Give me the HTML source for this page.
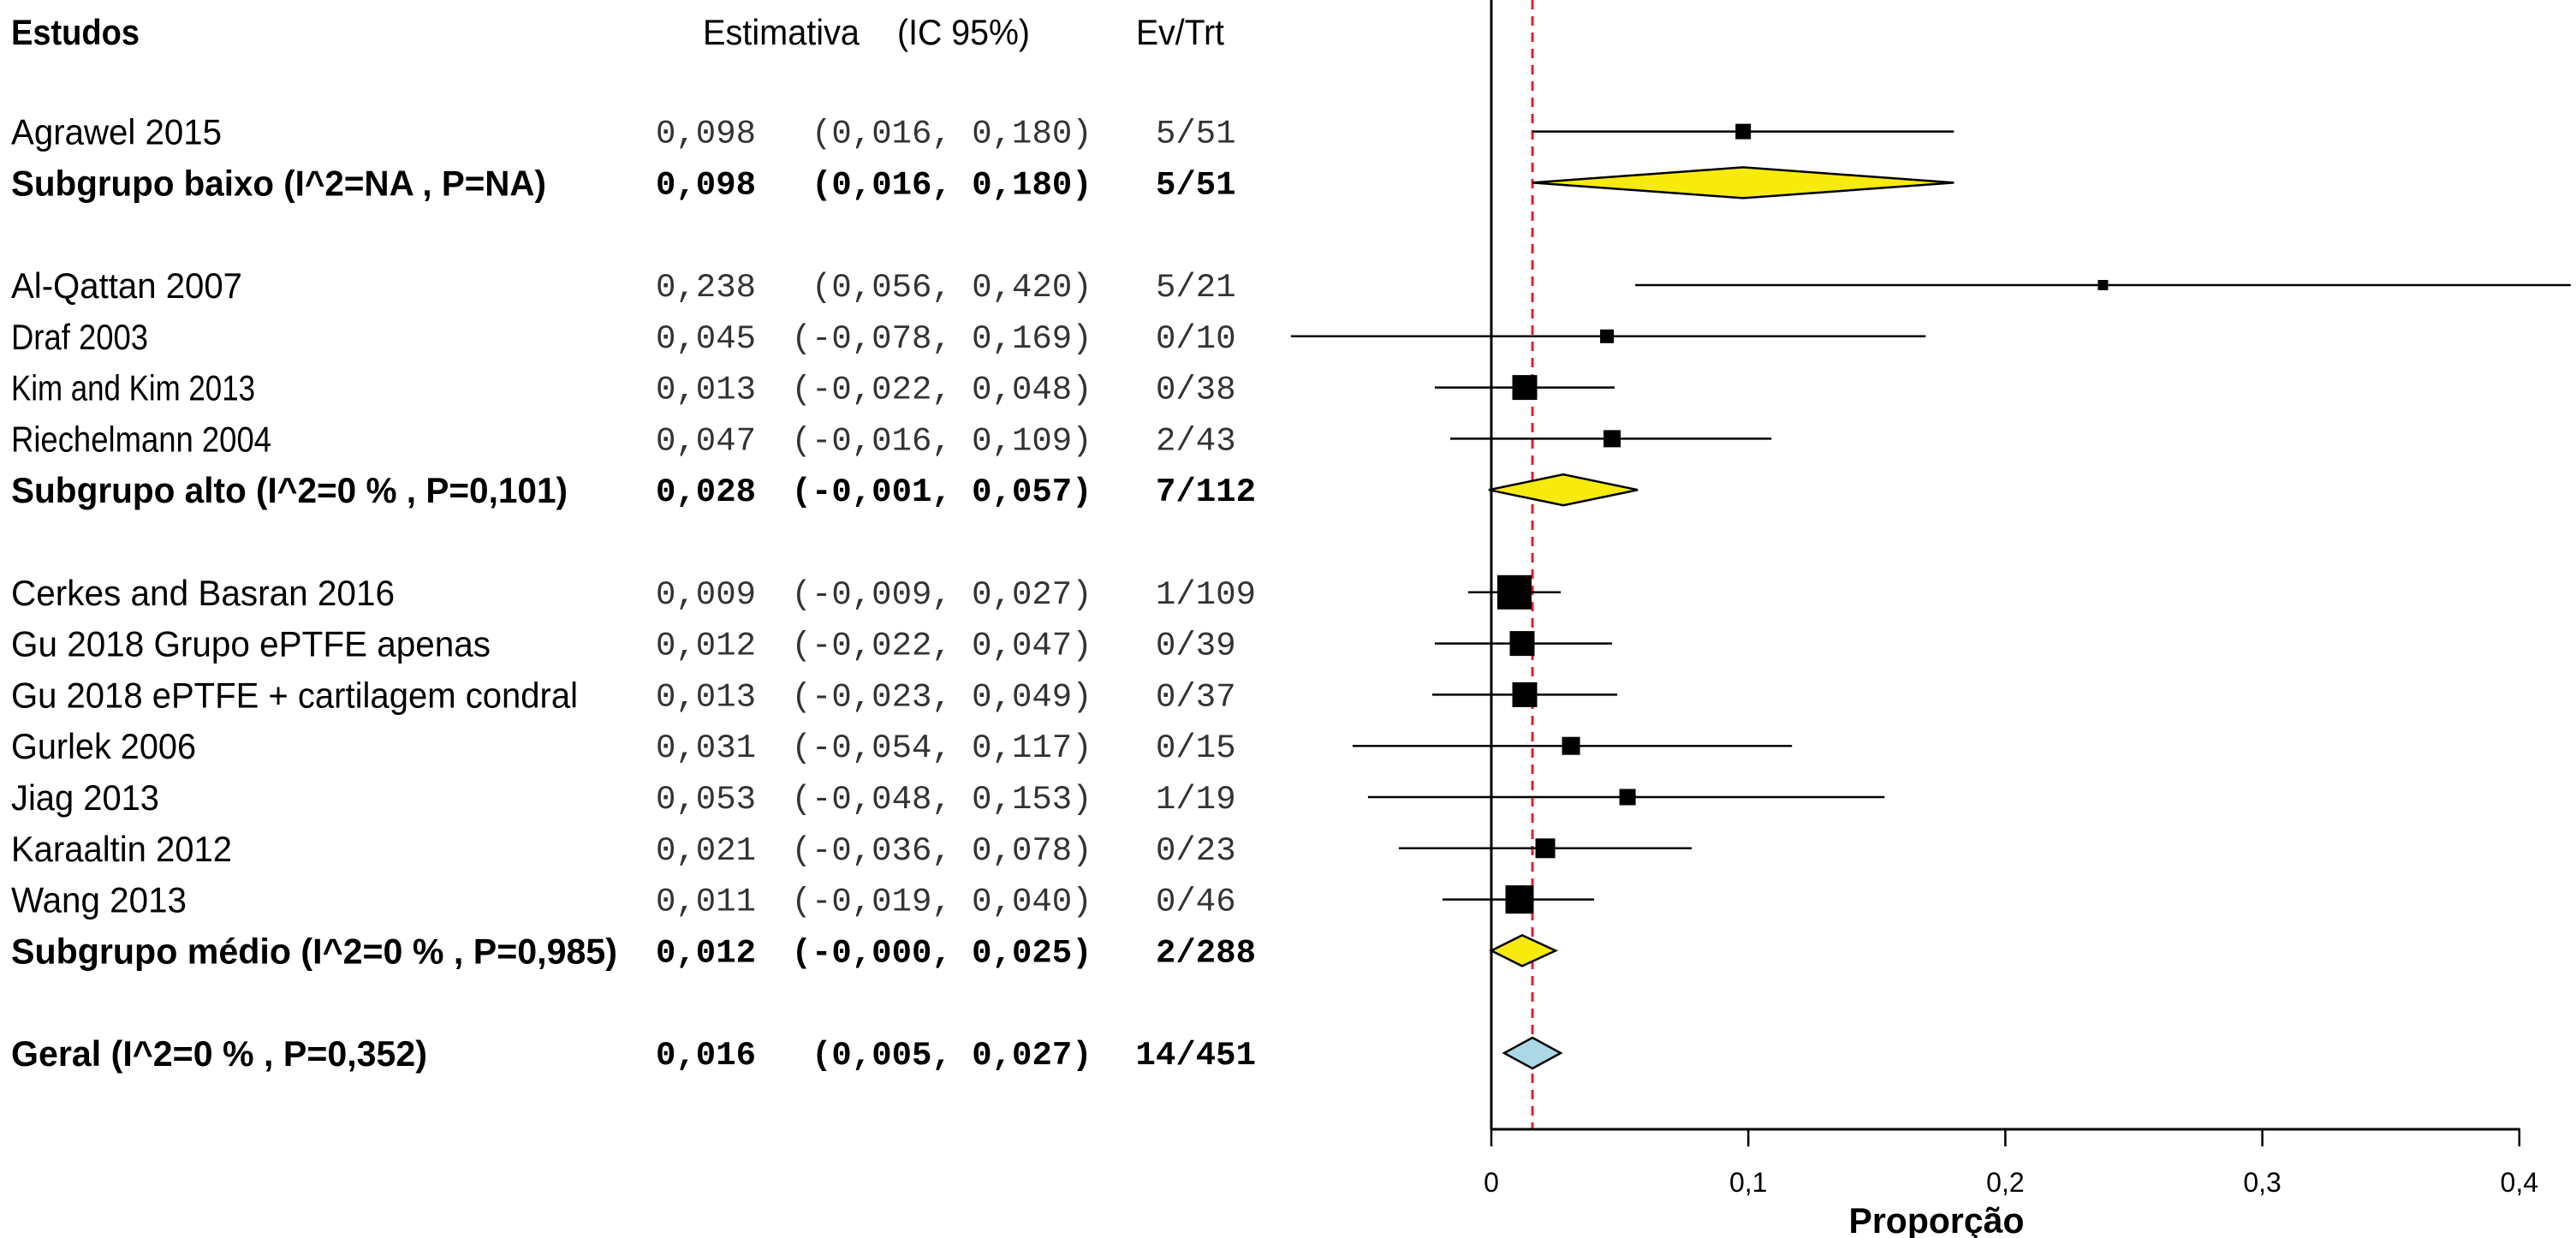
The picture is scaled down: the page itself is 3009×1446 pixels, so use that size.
<!DOCTYPE html>
<html><head><meta charset="utf-8">
<style>
html,body{margin:0;padding:0;background:#fff;}
svg{display:block;}
text{font-family:"Liberation Sans",sans-serif;}
.mono{font-family:"Liberation Mono",monospace;font-size:39px;}
</style></head>
<body>
<svg id="chart" width="3009" height="1446" viewBox="0 0 3009 1446" xmlns="http://www.w3.org/2000/svg">
  <g id="header">
    <text x="13" y="52" font-size="42" font-weight="bold" textLength="150" lengthAdjust="spacingAndGlyphs">Estudos</text>
    <text x="821" y="52" font-size="42" textLength="183" lengthAdjust="spacingAndGlyphs">Estimativa</text>
    <text x="1048" y="52" font-size="42" textLength="155" lengthAdjust="spacingAndGlyphs">(IC 95%)</text>
    <text x="1327" y="52" font-size="42" textLength="103" lengthAdjust="spacingAndGlyphs">Ev/Trt</text>
  </g>
  <g id="rows"></g>
  <g id="plot"></g>
  <g id="axis"></g>
</svg>
<script>
const labels = ["Agrawel 2015","Subgrupo baixo (I^2=NA , P=NA)","Al-Qattan 2007","Draf 2003","Kim and Kim 2013","Riechelmann 2004","Subgrupo alto (I^2=0 % , P=0,101)","Cerkes and Basran 2016","Gu 2018  Grupo ePTFE apenas","Gu 2018  ePTFE + cartilagem condral","Gurlek 2006","Jiag 2013","Karaaltin 2012","Wang 2013","Subgrupo médio  (I^2=0 % , P=0,985)","Geral (I^2=0 % , P=0,352)"];
const rowIndex = [2,3,5,6,7,8,9,11,12,13,14,15,16,17,18,20];
const kinds = ["study","sub","study","study","study","study","sub","study","study","study","study","study","study","study","sub","overall"];
const estimates = [0.098,0.098,0.238,0.045,0.013,0.047,0.028,0.009,0.012,0.013,0.031,0.053,0.021,0.011,0.012,0.016];
const lowers = [0.016,0.016,0.056,-0.078,-0.022,-0.016,-0.001,-0.009,-0.022,-0.023,-0.054,-0.048,-0.036,-0.019,-0.000,0.005];
const uppers = [0.180,0.180,0.420,0.169,0.048,0.109,0.057,0.027,0.047,0.049,0.117,0.153,0.078,0.040,0.025,0.027];
const estText = ["0,098","0,098","0,238","0,045","0,013","0,047","0,028","0,009","0,012","0,013","0,031","0,053","0,021","0,011","0,012","0,016"];
const lowText = ["0,016","0,016","0,056","-0,078","-0,022","-0,016","-0,001","-0,009","-0,022","-0,023","-0,054","-0,048","-0,036","-0,019","-0,000","0,005"];
const upText = ["0,180","0,180","0,420","0,169","0,048","0,109","0,057","0,027","0,047","0,049","0,117","0,153","0,078","0,040","0,025","0,027"];
const evText = ["5/51","5/51","5/21","0/10","0/38","2/43","7/112","1/109","0/39","0/37","0/15","1/19","0/23","0/46","2/288","14/451"];
const weights = [18,0,12,16,29,20,0,40,29,29,21,19,23,33,0,0];
const labelWidths = [246,625,270,160,285,304,650,448,560,662,216,173,258,205,708,486];
const ticks = [0,0.1,0.2,0.3,0.4];
const tickLabels = ["0","0,1","0,2","0,3","0,4"];
const pooled = 0.016;

const NS = "http://www.w3.org/2000/svg";
const X0 = 1742, XS = 3002, ROW0 = 34, ROWH = 59.8, AXISY = 1319;
const xs = v => X0 + v * XS;
const ys = i => ROW0 + i * ROWH;
function mk(tag, attrs, parent){
  const e = document.createElementNS(NS, tag);
  for (const k in attrs) e.setAttribute(k, attrs[k]);
  parent.appendChild(e); return e;
}
const rowsG = document.getElementById('rows');
const plotG = document.getElementById('plot');
const axisG = document.getElementById('axis');
const CW = 23.45;

const vline = mk('line',{x1:xs(0),y1:0,x2:xs(0),y2:AXISY,stroke:'#000','stroke-width':3},plotG);


const rline = mk('line',{x1:xs(pooled),y1:0,x2:xs(pooled),y2:AXISY,stroke:'#ee1c25','stroke-width':3,'stroke-dasharray':'11 8'},plotG);



labels.forEach((lab,i)=>{
  const y = ys(rowIndex[i]);
  const bold = kinds[i] !== 'study';
  const g = mk('g',{},rowsG);
  
  
  const t = mk('text',{x:13,y:y+15,'font-size':42,'font-weight':bold?'bold':'normal',textLength:labelWidths[i],lengthAdjust:'spacingAndGlyphs'},g);
  t.textContent = lab;
  
  
  const e = mk('text',{x:766,y:y+13,'class':'mono','font-weight':bold?'bold':'normal',fill:bold?'#000':'#333'},g);
  e.textContent = estText[i];
  
  
  const lo = lowText[i];
  const ci = mk('text',{x:948 - (lo.length-5)*CW,y:y+13,'class':'mono','font-weight':bold?'bold':'normal',fill:bold?'#000':'#333'},g);
  ci.textContent = '(' + lo + ', ' + upText[i] + ')';
  
  
  const ev = evText[i];
  const evx = ev.length > 5 ? 1350 - (ev.length-5)*CW : 1350;
  const et = mk('text',{x:evx,y:y+13,'class':'mono','font-weight':bold?'bold':'normal',fill:bold?'#000':'#333'},g);
  et.textContent = ev;
  
  

  const hi = Math.min(uppers[i], 0.4223);
  if (kinds[i] === 'study'){
    const l = mk('line',{x1:xs(lowers[i]),y1:y,x2:xs(hi),y2:y,stroke:'#000','stroke-width':2.5},plotG);
    
    
    const s = weights[i];
    const r = mk('rect',{x:xs(estimates[i])-s/2,y:y-s/2,width:s,height:s,fill:'#000'},plotG);
    
    
  } else {
    const h = 18;
    const pts = [[xs(lowers[i]),y],[xs(estimates[i]),y-h],[xs(uppers[i]),y],[xs(estimates[i]),y+h]].map(p=>p.join(',')).join(' ');
    const d = mk('polygon',{points:pts,fill:kinds[i]==='overall'?'#acd8e6':'#f7ea0c',stroke:'#000','stroke-width':2.5},plotG);
    
    
  }
});

const ax = mk('line',{x1:xs(0)-1,y1:AXISY,x2:xs(0.4)+1,y2:AXISY,stroke:'#000','stroke-width':3},axisG);


ticks.forEach((v,i)=>{
  const tk = mk('line',{x1:xs(v),y1:AXISY,x2:xs(v),y2:AXISY+20,stroke:'#000','stroke-width':2.5},axisG);
  
  
  const tl = mk('text',{x:xs(v),y:1392,'font-size':32,'text-anchor':'middle'},axisG);
  tl.textContent = tickLabels[i];
  
  
});
const at = mk('text',{x:2262,y:1440,'font-size':42,'font-weight':'bold','text-anchor':'middle',textLength:205,lengthAdjust:'spacingAndGlyphs'},axisG);
at.textContent = 'Proporção';


</script>
</body></html>
